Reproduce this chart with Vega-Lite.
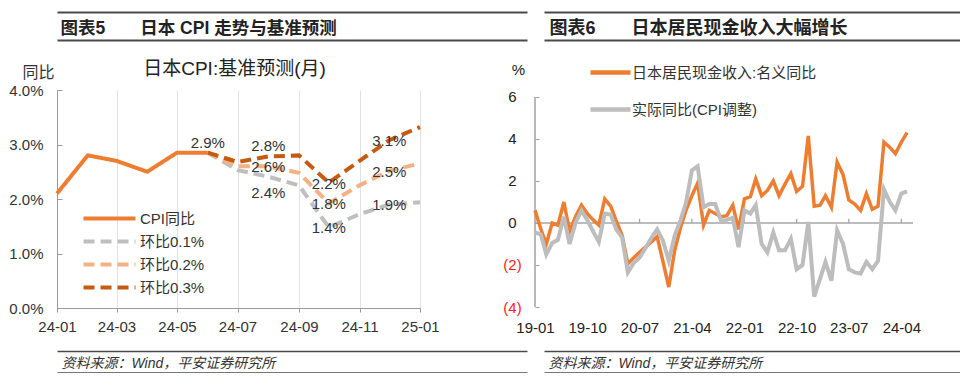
{
  "$schema": "https://vega.github.io/schema/vega-lite/v6.json",
  "padding": {"left": 2, "top": 12, "right": 0, "bottom": 0},
  "background": "white",
  "config": {
    "font": "Liberation Sans, Noto Sans CJK SC, sans-serif",
    "view": {"stroke": null},
    "axis": {"labelFont": "Liberation Sans, Noto Sans CJK SC, sans-serif", "titleFont": "Liberation Sans, Noto Sans CJK SC, sans-serif", "labelColor": "#333333", "titleColor": "#333333", "grid": false},
    "legend": {"labelFont": "Liberation Sans, Noto Sans CJK SC, sans-serif", "labelColor": "#333333", "padding": 0, "labelLimit": 400},
    "title": {"font": "Liberation Sans, Noto Sans CJK SC, sans-serif"}
  },
  "datasets": {
    "cpi": [
      {"date": "2024-01", "series": "CPI同比", "value": 2.1},
      {"date": "2024-02", "series": "CPI同比", "value": 2.8},
      {"date": "2024-03", "series": "CPI同比", "value": 2.7},
      {"date": "2024-04", "series": "CPI同比", "value": 2.5},
      {"date": "2024-05", "series": "CPI同比", "value": 2.85},
      {"date": "2024-06", "series": "CPI同比", "value": 2.85},
      {"date": "2024-06", "series": "环比0.1%", "value": 2.85},
      {"date": "2024-07", "series": "环比0.1%", "value": 2.53},
      {"date": "2024-08", "series": "环比0.1%", "value": 2.41},
      {"date": "2024-09", "series": "环比0.1%", "value": 2.25},
      {"date": "2024-10", "series": "环比0.1%", "value": 1.48},
      {"date": "2024-11", "series": "环比0.1%", "value": 1.72},
      {"date": "2024-12", "series": "环比0.1%", "value": 1.9},
      {"date": "2025-01", "series": "环比0.1%", "value": 1.94},
      {"date": "2024-06", "series": "环比0.2%", "value": 2.85},
      {"date": "2024-07", "series": "环比0.2%", "value": 2.6},
      {"date": "2024-08", "series": "环比0.2%", "value": 2.6},
      {"date": "2024-09", "series": "环比0.2%", "value": 2.48},
      {"date": "2024-10", "series": "环比0.2%", "value": 1.92},
      {"date": "2024-11", "series": "环比0.2%", "value": 2.25},
      {"date": "2024-12", "series": "环比0.2%", "value": 2.52},
      {"date": "2025-01", "series": "环比0.2%", "value": 2.65},
      {"date": "2024-06", "series": "环比0.3%", "value": 2.85},
      {"date": "2024-07", "series": "环比0.3%", "value": 2.68},
      {"date": "2024-08", "series": "环比0.3%", "value": 2.78},
      {"date": "2024-09", "series": "环比0.3%", "value": 2.8},
      {"date": "2024-10", "series": "环比0.3%", "value": 2.3},
      {"date": "2024-11", "series": "环比0.3%", "value": 2.7},
      {"date": "2024-12", "series": "环比0.3%", "value": 3.08},
      {"date": "2025-01", "series": "环比0.3%", "value": 3.32}
    ],
    "cpiLabels": [
      {"date": "2024-06", "value": 2.85, "label": "2.9%"},
      {"date": "2024-08", "value": 2.78, "label": "2.8%"},
      {"date": "2024-08", "value": 2.6, "label": "2.6%"},
      {"date": "2024-08", "value": 2.41, "label": "2.4%"},
      {"date": "2024-10", "value": 2.3, "label": "2.2%"},
      {"date": "2024-10", "value": 1.92, "label": "1.8%"},
      {"date": "2024-10", "value": 1.48, "label": "1.4%"},
      {"date": "2024-12", "value": 3.08, "label": "3.1%"},
      {"date": "2024-12", "value": 2.52, "label": "2.5%"},
      {"date": "2024-12", "value": 1.9, "label": "1.9%"}
    ],
    "wage": [
      {"date": "2019-01", "series": "日本居民现金收入:名义同比", "value": 0.6},
      {"date": "2019-02", "series": "日本居民现金收入:名义同比", "value": -0.3},
      {"date": "2019-03", "series": "日本居民现金收入:名义同比", "value": -1.0},
      {"date": "2019-04", "series": "日本居民现金收入:名义同比", "value": 0.0},
      {"date": "2019-05", "series": "日本居民现金收入:名义同比", "value": -0.1},
      {"date": "2019-06", "series": "日本居民现金收入:名义同比", "value": 1.0},
      {"date": "2019-07", "series": "日本居民现金收入:名义同比", "value": -0.4},
      {"date": "2019-08", "series": "日本居民现金收入:名义同比", "value": 0.3},
      {"date": "2019-09", "series": "日本居民现金收入:名义同比", "value": 0.85},
      {"date": "2019-10", "series": "日本居民现金收入:名义同比", "value": 0.45},
      {"date": "2019-11", "series": "日本居民现金收入:名义同比", "value": 0.15},
      {"date": "2019-12", "series": "日本居民现金收入:名义同比", "value": -0.1},
      {"date": "2020-01", "series": "日本居民现金收入:名义同比", "value": 1.15},
      {"date": "2020-02", "series": "日本居民现金收入:名义同比", "value": 0.8},
      {"date": "2020-03", "series": "日本居民现金收入:名义同比", "value": 0.1},
      {"date": "2020-04", "series": "日本居民现金收入:名义同比", "value": -0.6},
      {"date": "2020-05", "series": "日本居民现金收入:名义同比", "value": -1.95},
      {"date": "2020-06", "series": "日本居民现金收入:名义同比", "value": -1.65},
      {"date": "2020-07", "series": "日本居民现金收入:名义同比", "value": -1.4},
      {"date": "2020-08", "series": "日本居民现金收入:名义同比", "value": -1.15},
      {"date": "2020-09", "series": "日本居民现金收入:名义同比", "value": -0.9},
      {"date": "2020-10", "series": "日本居民现金收入:名义同比", "value": -0.65},
      {"date": "2020-11", "series": "日本居民现金收入:名义同比", "value": -1.85},
      {"date": "2020-12", "series": "日本居民现金收入:名义同比", "value": -3.05},
      {"date": "2021-01", "series": "日本居民现金收入:名义同比", "value": -1.3},
      {"date": "2021-02", "series": "日本居民现金收入:名义同比", "value": -0.2},
      {"date": "2021-03", "series": "日本居民现金收入:名义同比", "value": 0.6},
      {"date": "2021-04", "series": "日本居民现金收入:名义同比", "value": 1.3},
      {"date": "2021-05", "series": "日本居民现金收入:名义同比", "value": 1.9},
      {"date": "2021-06", "series": "日本居民现金收入:名义同比", "value": -0.1},
      {"date": "2021-07", "series": "日本居民现金收入:名义同比", "value": 0.6},
      {"date": "2021-08", "series": "日本居民现金收入:名义同比", "value": 0.45},
      {"date": "2021-09", "series": "日本居民现金收入:名义同比", "value": 0.3},
      {"date": "2021-10", "series": "日本居民现金收入:名义同比", "value": 0.35},
      {"date": "2021-11", "series": "日本居民现金收入:名义同比", "value": 0.85},
      {"date": "2021-12", "series": "日本居民现金收入:名义同比", "value": -0.3},
      {"date": "2022-01", "series": "日本居民现金收入:名义同比", "value": 1.15},
      {"date": "2022-02", "series": "日本居民现金收入:名义同比", "value": 1.25},
      {"date": "2022-03", "series": "日本居民现金收入:名义同比", "value": 2.1},
      {"date": "2022-04", "series": "日本居民现金收入:名义同比", "value": 1.3},
      {"date": "2022-05", "series": "日本居民现金收入:名义同比", "value": 1.55},
      {"date": "2022-06", "series": "日本居民现金收入:名义同比", "value": 2.0},
      {"date": "2022-07", "series": "日本居民现金收入:名义同比", "value": 1.3},
      {"date": "2022-08", "series": "日本居民现金收入:名义同比", "value": 1.85},
      {"date": "2022-09", "series": "日本居民现金收入:名义同比", "value": 2.35},
      {"date": "2022-10", "series": "日本居民现金收入:名义同比", "value": 1.5},
      {"date": "2022-11", "series": "日本居民现金收入:名义同比", "value": 1.75},
      {"date": "2022-12", "series": "日本居民现金收入:名义同比", "value": 4.15},
      {"date": "2023-01", "series": "日本居民现金收入:名义同比", "value": 0.8},
      {"date": "2023-02", "series": "日本居民现金收入:名义同比", "value": 0.85},
      {"date": "2023-03", "series": "日本居民现金收入:名义同比", "value": 1.3},
      {"date": "2023-04", "series": "日本居民现金收入:名义同比", "value": 0.75},
      {"date": "2023-05", "series": "日本居民现金收入:名义同比", "value": 2.9},
      {"date": "2023-06", "series": "日本居民现金收入:名义同比", "value": 2.3},
      {"date": "2023-07", "series": "日本居民现金收入:名义同比", "value": 1.1},
      {"date": "2023-08", "series": "日本居民现金收入:名义同比", "value": 0.9},
      {"date": "2023-09", "series": "日本居民现金收入:名义同比", "value": 0.6},
      {"date": "2023-10", "series": "日本居民现金收入:名义同比", "value": 1.4},
      {"date": "2023-11", "series": "日本居民现金收入:名义同比", "value": 0.65},
      {"date": "2023-12", "series": "日本居民现金收入:名义同比", "value": 0.8},
      {"date": "2024-01", "series": "日本居民现金收入:名义同比", "value": 3.85},
      {"date": "2024-02", "series": "日本居民现金收入:名义同比", "value": 3.6},
      {"date": "2024-03", "series": "日本居民现金收入:名义同比", "value": 3.3},
      {"date": "2024-04", "series": "日本居民现金收入:名义同比", "value": 3.85},
      {"date": "2024-05", "series": "日本居民现金收入:名义同比", "value": 4.3},
      {"date": "2019-01", "series": "实际同比(CPI调整)", "value": -0.45},
      {"date": "2019-02", "series": "实际同比(CPI调整)", "value": -0.55},
      {"date": "2019-03", "series": "实际同比(CPI调整)", "value": -1.5},
      {"date": "2019-04", "series": "实际同比(CPI调整)", "value": -0.95},
      {"date": "2019-05", "series": "实际同比(CPI调整)", "value": -0.8},
      {"date": "2019-06", "series": "实际同比(CPI调整)", "value": 0.3},
      {"date": "2019-07", "series": "实际同比(CPI调整)", "value": -1.0},
      {"date": "2019-08", "series": "实际同比(CPI调整)", "value": 0.0},
      {"date": "2019-09", "series": "实际同比(CPI调整)", "value": 0.6},
      {"date": "2019-10", "series": "实际同比(CPI调整)", "value": 0.15},
      {"date": "2019-11", "series": "实际同比(CPI调整)", "value": -0.4},
      {"date": "2019-12", "series": "实际同比(CPI调整)", "value": -0.9},
      {"date": "2020-01", "series": "实际同比(CPI调整)", "value": 0.45},
      {"date": "2020-02", "series": "实际同比(CPI调整)", "value": 0.4},
      {"date": "2020-03", "series": "实际同比(CPI调整)", "value": -0.3},
      {"date": "2020-04", "series": "实际同比(CPI调整)", "value": -0.7},
      {"date": "2020-05", "series": "实际同比(CPI调整)", "value": -2.35},
      {"date": "2020-06", "series": "实际同比(CPI调整)", "value": -1.9},
      {"date": "2020-07", "series": "实际同比(CPI调整)", "value": -1.65},
      {"date": "2020-08", "series": "实际同比(CPI调整)", "value": -1.2},
      {"date": "2020-09", "series": "实际同比(CPI调整)", "value": -0.7},
      {"date": "2020-10", "series": "实际同比(CPI调整)", "value": -0.3},
      {"date": "2020-11", "series": "实际同比(CPI调整)", "value": -0.85},
      {"date": "2020-12", "series": "实际同比(CPI调整)", "value": -1.8},
      {"date": "2021-01", "series": "实际同比(CPI调整)", "value": -0.6},
      {"date": "2021-02", "series": "实际同比(CPI调整)", "value": 0.15},
      {"date": "2021-03", "series": "实际同比(CPI调整)", "value": 0.95},
      {"date": "2021-04", "series": "实际同比(CPI调整)", "value": 2.5},
      {"date": "2021-05", "series": "实际同比(CPI调整)", "value": 2.7},
      {"date": "2021-06", "series": "实际同比(CPI调整)", "value": 0.75},
      {"date": "2021-07", "series": "实际同比(CPI调整)", "value": 0.9},
      {"date": "2021-08", "series": "实际同比(CPI调整)", "value": 0.9},
      {"date": "2021-09", "series": "实际同比(CPI调整)", "value": 0.1},
      {"date": "2021-10", "series": "实际同比(CPI调整)", "value": 0.15},
      {"date": "2021-11", "series": "实际同比(CPI调整)", "value": 0.25},
      {"date": "2021-12", "series": "实际同比(CPI调整)", "value": -1.15},
      {"date": "2022-01", "series": "实际同比(CPI调整)", "value": 0.6},
      {"date": "2022-02", "series": "实际同比(CPI调整)", "value": 0.45},
      {"date": "2022-03", "series": "实际同比(CPI调整)", "value": 0.85},
      {"date": "2022-04", "series": "实际同比(CPI调整)", "value": -1.0},
      {"date": "2022-05", "series": "实际同比(CPI调整)", "value": -1.4},
      {"date": "2022-06", "series": "实际同比(CPI调整)", "value": -0.45},
      {"date": "2022-07", "series": "实际同比(CPI调整)", "value": -1.3},
      {"date": "2022-08", "series": "实际同比(CPI调整)", "value": -1.3},
      {"date": "2022-09", "series": "实际同比(CPI调整)", "value": -0.75},
      {"date": "2022-10", "series": "实际同比(CPI调整)", "value": -2.2},
      {"date": "2022-11", "series": "实际同比(CPI调整)", "value": -2.0},
      {"date": "2022-12", "series": "实际同比(CPI调整)", "value": 0.05},
      {"date": "2023-01", "series": "实际同比(CPI调整)", "value": -3.5},
      {"date": "2023-02", "series": "实际同比(CPI调整)", "value": -2.65},
      {"date": "2023-03", "series": "实际同比(CPI调整)", "value": -1.85},
      {"date": "2023-04", "series": "实际同比(CPI调整)", "value": -2.75},
      {"date": "2023-05", "series": "实际同比(CPI调整)", "value": -0.35},
      {"date": "2023-06", "series": "实际同比(CPI调整)", "value": -1.0},
      {"date": "2023-07", "series": "实际同比(CPI调整)", "value": -2.2},
      {"date": "2023-08", "series": "实际同比(CPI调整)", "value": -2.35},
      {"date": "2023-09", "series": "实际同比(CPI调整)", "value": -2.4},
      {"date": "2023-10", "series": "实际同比(CPI调整)", "value": -1.85},
      {"date": "2023-11", "series": "实际同比(CPI调整)", "value": -2.2},
      {"date": "2023-12", "series": "实际同比(CPI调整)", "value": -1.8},
      {"date": "2024-01", "series": "实际同比(CPI调整)", "value": 1.6},
      {"date": "2024-02", "series": "实际同比(CPI调整)", "value": 1.0},
      {"date": "2024-03", "series": "实际同比(CPI调整)", "value": 0.6},
      {"date": "2024-04", "series": "实际同比(CPI调整)", "value": 1.4},
      {"date": "2024-05", "series": "实际同比(CPI调整)", "value": 1.5}
    ],
    "wageTicks": [
      {"date": "2019-10"}, {"date": "2020-07"}, {"date": "2021-04"}, {"date": "2022-01"},
      {"date": "2022-10"}, {"date": "2023-07"}, {"date": "2024-04"}
    ],
    "frame": [{"v": 0}, {"v": 1}]
  },
  "columns": 1,
  "spacing": 16,
  "align": "none",
  "resolve": {
    "scale": {"color": "independent", "strokeDash": "independent"},
    "legend": {"color": "independent", "strokeDash": "independent"}
  },
  "concat": [
    {
      "columns": 1,
      "spacing": 20,
      "align": "none",
      "resolve": {
        "scale": {"color": "independent", "strokeDash": "independent"},
        "legend": {"color": "independent", "strokeDash": "independent"}
      },
      "concat": [
        {
          "spacing": 15,
          "hconcat": [
            {
              "spacing": 0,
              "vconcat": [
                {"width": 470, "height": 1, "data": {"name": "frame"},
                 "mark": {"type": "point", "opacity": 0, "size": 1},
                 "encoding": {"x": {"field": "v", "type": "quantitative", "scale": {"domain": [0, 1]},
                   "axis": {"orient": "top", "domain": true, "domainColor": "#4a4a4a", "domainWidth": 2, "ticks": false, "labels": false, "grid": false, "title": null}}}},
                {"width": 470, "height": 27, "data": {"name": "frame"},
                 "mark": {"type": "point", "opacity": 0, "size": 1},
                 "encoding": {"x": {"field": "v", "type": "quantitative", "scale": {"domain": [0, 1]},
                   "axis": {"orient": "bottom", "domain": true, "domainColor": "#4a4a4a", "domainWidth": 2, "ticks": false, "labels": false, "grid": false,
                     "title": "图表5\u3000\u3000日本 CPI 走势与基准预测", "titleX": 3, "titleY": -7, "titleAlign": "left", "titleAnchor": "start", "titleBaseline": "alphabetic", "titleFontSize": 17.5, "titleFontWeight": "bold", "titleColor": "#222222"}}}}
              ]
            },
            {
              "spacing": 0,
              "vconcat": [
                {"width": 471, "height": 1, "data": {"name": "frame"},
                 "mark": {"type": "point", "opacity": 0, "size": 1},
                 "encoding": {"x": {"field": "v", "type": "quantitative", "scale": {"domain": [0, 1]},
                   "axis": {"orient": "top", "domain": true, "domainColor": "#4a4a4a", "domainWidth": 2, "ticks": false, "labels": false, "grid": false, "title": null}}}},
                {"width": 471, "height": 27, "data": {"name": "frame"},
                 "mark": {"type": "point", "opacity": 0, "size": 1},
                 "encoding": {"x": {"field": "v", "type": "quantitative", "scale": {"domain": [0, 1]},
                   "axis": {"orient": "bottom", "domain": true, "domainColor": "#4a4a4a", "domainWidth": 2, "ticks": false, "labels": false, "grid": false,
                     "title": "图表6\u3000\u3000日本居民现金收入大幅增长", "titleX": 5, "titleY": -7, "titleAlign": "left", "titleAnchor": "start", "titleBaseline": "alphabetic", "titleFontSize": 18, "titleFontWeight": "bold", "titleColor": "#222222"}}}}
              ]
            }
          ]
        },
        {
          "spacing": 47,
          "resolve": {
            "scale": {"color": "independent", "strokeDash": "independent"},
            "legend": {"color": "independent", "strokeDash": "independent"}
          },
          "hconcat": [
            {
              "width": 363, "height": 218,
              "title": {"text": "日本CPI:基准预测(月)", "anchor": "middle", "dx": -4, "offset": -15, "fontSize": 19, "fontWeight": "normal", "color": "#222222"},
              "layer": [
                {
                  "data": {"name": "cpi"},
                  "mark": {"type": "line", "strokeWidth": 4},
                  "encoding": {
                    "x": {"field": "date", "type": "temporal", "timeUnit": "utcyearmonth",
                      "scale": {"domain": [{"year": 2024, "month": 1, "utc": true}, {"year": 2025, "month": 1, "utc": true}]},
                      "axis": {"title": null, "values": [
                        {"year": 2024, "month": 1, "utc": true}, {"year": 2024, "month": 2, "utc": true}, {"year": 2024, "month": 3, "utc": true},
                        {"year": 2024, "month": 4, "utc": true}, {"year": 2024, "month": 5, "utc": true}, {"year": 2024, "month": 6, "utc": true},
                        {"year": 2024, "month": 7, "utc": true}, {"year": 2024, "month": 8, "utc": true}, {"year": 2024, "month": 9, "utc": true},
                        {"year": 2024, "month": 10, "utc": true}, {"year": 2024, "month": 11, "utc": true}, {"year": 2024, "month": 12, "utc": true},
                        {"year": 2025, "month": 1, "utc": true}],
                        "labelExpr": "utcmonth(datum.value) % 2 == 0 ? utcFormat(datum.value, '%y-%m') : ''",
                        "grid": true, "gridColor": "#e2e2e2", "gridWidth": 1, "domainColor": "#999999", "tickColor": "#999999", "tickSize": 4,
                        "labelFontSize": 15, "labelPadding": 7, "labelOverlap": false, "labelFlush": false}},
                    "y": {"field": "value", "type": "quantitative", "scale": {"domain": [0, 4]},
                      "axis": {"values": [0, 1, 2, 3, 4], "labelExpr": "format(datum.value, '.1f') + '%'",
                        "title": "同比", "titleAngle": 0, "titleX": -19, "titleY": -18, "titleAlign": "center", "titleBaseline": "middle", "titleFontSize": 16, "titleFontWeight": "normal",
                        "labelFontSize": 15, "labelPadding": 19, "tickSize": -5, "domainColor": "#999999", "tickColor": "#999999", "minExtent": 55}},
                    "color": {"field": "series", "type": "nominal",
                      "scale": {"domain": ["CPI同比", "环比0.1%", "环比0.2%", "环比0.3%"], "range": ["#ED7D31", "#BFBFBF", "#F4B183", "#C55A11"]},
                      "legend": {"orient": "none", "legendX": 45, "legendY": 121, "title": null, "symbolType": "M-5,0H5", "symbolSize": 108, "symbolStrokeWidth": 4, "labelFontSize": 15, "labelOffset": 23, "rowPadding": 6}},
                    "strokeDash": {"field": "series", "type": "nominal",
                      "scale": {"domain": ["CPI同比", "环比0.1%", "环比0.2%", "环比0.3%"], "range": [[1, 0], [11, 6], [11, 6], [11, 6]]},
                      "legend": {"orient": "none", "legendX": 45, "legendY": 121, "title": null, "symbolType": "M-5,0H5", "symbolSize": 108, "symbolStrokeWidth": 4, "labelFontSize": 15, "labelOffset": 23, "rowPadding": 6}}
                  }
                },
                {
                  "data": {"name": "cpiLabels"},
                  "transform": [{"filter": {"field": "label", "oneOf": ["2.9%", "2.8%"]}}],
                  "mark": {"type": "text", "fontSize": 15, "color": "#333333", "baseline": "middle", "dy": -10},
                  "encoding": {"x": {"field": "date", "type": "temporal", "timeUnit": "utcyearmonth"}, "y": {"field": "value", "type": "quantitative"}, "text": {"field": "label"}}
                },
                {
                  "data": {"name": "cpiLabels"},
                  "transform": [{"filter": {"field": "label", "oneOf": ["2.4%"]}}],
                  "mark": {"type": "text", "fontSize": 15, "color": "#333333", "baseline": "middle", "dy": 16},
                  "encoding": {"x": {"field": "date", "type": "temporal", "timeUnit": "utcyearmonth"}, "y": {"field": "value", "type": "quantitative"}, "text": {"field": "label"}}
                },
                {
                  "data": {"name": "cpiLabels"},
                  "transform": [{"filter": {"not": {"field": "label", "oneOf": ["2.9%", "2.8%", "2.4%"]}}}],
                  "mark": {"type": "text", "fontSize": 15, "color": "#333333", "baseline": "middle", "dy": 1},
                  "encoding": {"x": {"field": "date", "type": "temporal", "timeUnit": "utcyearmonth"}, "y": {"field": "value", "type": "quantitative"}, "text": {"field": "label"}}
                }
              ]
            },
            {
              "width": 378, "height": 217,
              "layer": [
                {
                  "data": {"values": [{"zero": 0}]},
                  "mark": {"type": "rule", "color": "#a6a6a6", "strokeWidth": 1.3},
                  "encoding": {"y": {"field": "zero", "type": "quantitative"}}
                },
                {
                  "data": {"values": [{"start": "2019-01", "low": -4, "high": 6}]},
                  "mark": {"type": "rule", "color": "#a0a0a0", "strokeWidth": 1.5},
                  "encoding": {"x": {"field": "start", "type": "temporal", "timeUnit": "utcyearmonth"}, "y": {"field": "low", "type": "quantitative"}, "y2": {"field": "high"}}
                },
                {
                  "data": {"name": "wageTicks"},
                  "mark": {"type": "rule", "color": "#a6a6a6", "strokeWidth": 1.3},
                  "encoding": {"x": {"field": "date", "type": "temporal", "timeUnit": "utcyearmonth"}, "y": {"datum": 0}, "y2": {"datum": 0.2}}
                },
                {
                  "data": {"name": "wage"},
                  "transform": [{"filter": {"field": "series", "equal": "日本居民现金收入:名义同比"}}],
                  "mark": {"type": "line", "strokeWidth": 3.5},
                  "encoding": {
                    "x": {"field": "date", "type": "temporal", "timeUnit": "utcyearmonth",
                      "scale": {"domain": [{"year": 2019, "month": 1, "utc": true}, {"year": 2024, "month": 6, "utc": true}]},
                      "axis": {"title": null, "values": [
                        {"year": 2019, "month": 1, "utc": true}, {"year": 2019, "month": 10, "utc": true}, {"year": 2020, "month": 7, "utc": true},
                        {"year": 2021, "month": 4, "utc": true}, {"year": 2022, "month": 1, "utc": true}, {"year": 2022, "month": 10, "utc": true},
                        {"year": 2023, "month": 7, "utc": true}, {"year": 2024, "month": 4, "utc": true}],
                        "labelExpr": "utcFormat(datum.value, '%y-%m')", "domain": false, "ticks": false, "grid": false,
                        "labelFontSize": 15, "labelPadding": 13, "labelOverlap": false, "labelFlush": false, "labelColor": "#222222"}},
                    "y": {"field": "value", "type": "quantitative", "scale": {"domain": [-4, 6.333], "nice": false},
                      "axis": {"values": [-4, -2, 0, 2, 4, 6], "title": "%", "titleAngle": 0, "titleX": -17, "titleY": -21, "titleAlign": "center", "titleBaseline": "middle", "titleFontSize": 15, "titleFontWeight": "normal", "titleColor": "#222222",
                        "labelExpr": "datum.value < 0 ? '(' + abs(datum.value) + ')' : '' + datum.value",
                        "labelColor": {"condition": {"test": "datum.value < 0", "value": "#ff1a1a"}, "value": "#222222"},
                        "labelAlign": "center", "labelPadding": 27, "labelFontSize": 15, "domain": false, "tickColor": "#a0a0a0", "tickSize": -4, "minExtent": 48}},
                    "color": {"field": "series", "type": "nominal",
                      "scale": {"domain": ["日本居民现金收入:名义同比", "实际同比(CPI调整)"], "range": ["#ED7D31", "#BDBDBD"]},
                      "legend": {"orient": "none", "legendX": 68, "legendY": -25, "title": null, "symbolType": "M-5,0H5", "symbolSize": 64, "symbolStrokeWidth": 4.5, "labelFontSize": 15, "labelOffset": 14, "rowPadding": 18}}
                  }
                },
                {
                  "data": {"name": "wage"},
                  "transform": [{"filter": {"field": "series", "equal": "实际同比(CPI调整)"}}],
                  "mark": {"type": "line", "strokeWidth": 4},
                  "encoding": {
                    "x": {"field": "date", "type": "temporal", "timeUnit": "utcyearmonth"},
                    "y": {"field": "value", "type": "quantitative"},
                    "color": {"field": "series", "type": "nominal"}
                  }
                }
              ]
            }
          ]
        }
      ]
    },
    {
      "spacing": 15,
      "hconcat": [
        {
          "spacing": 0,
          "vconcat": [
            {"width": 470, "height": 1, "data": {"name": "frame"},
             "mark": {"type": "point", "opacity": 0, "size": 1},
             "encoding": {"x": {"field": "v", "type": "quantitative", "scale": {"domain": [0, 1]},
               "axis": {"orient": "top", "domain": true, "domainColor": "#4a4a4a", "domainWidth": 1.5, "ticks": false, "labels": false, "grid": false, "title": null}}}},
            {"width": 470, "height": 21, "data": {"name": "frame"},
             "mark": {"type": "point", "opacity": 0, "size": 1},
             "encoding": {"x": {"field": "v", "type": "quantitative", "scale": {"domain": [0, 1]},
               "axis": {"orient": "bottom", "domain": true, "domainColor": "#4a4a4a", "domainWidth": 2.5, "ticks": false, "labels": false, "grid": false,
                 "title": "资料来源：Wind，平安证券研究所", "titleX": 4, "titleY": -6, "titleAlign": "left", "titleAnchor": "start", "titleBaseline": "alphabetic", "titleFontSize": 14, "titleFontWeight": "normal", "titleFontStyle": "italic", "titleColor": "#333333"}}}}
          ]
        },
        {
          "spacing": 0,
          "vconcat": [
            {"width": 471, "height": 1, "data": {"name": "frame"},
             "mark": {"type": "point", "opacity": 0, "size": 1},
             "encoding": {"x": {"field": "v", "type": "quantitative", "scale": {"domain": [0, 1]},
               "axis": {"orient": "top", "domain": true, "domainColor": "#4a4a4a", "domainWidth": 1.5, "ticks": false, "labels": false, "grid": false, "title": null}}}},
            {"width": 471, "height": 21, "data": {"name": "frame"},
             "mark": {"type": "point", "opacity": 0, "size": 1},
             "encoding": {"x": {"field": "v", "type": "quantitative", "scale": {"domain": [0, 1]},
               "axis": {"orient": "bottom", "domain": true, "domainColor": "#4a4a4a", "domainWidth": 2.5, "ticks": false, "labels": false, "grid": false,
                 "title": "资料来源：Wind，平安证券研究所", "titleX": 4, "titleY": -6, "titleAlign": "left", "titleAnchor": "start", "titleBaseline": "alphabetic", "titleFontSize": 14, "titleFontWeight": "normal", "titleFontStyle": "italic", "titleColor": "#333333"}}}}
          ]
        }
      ]
    }
  ]
}
